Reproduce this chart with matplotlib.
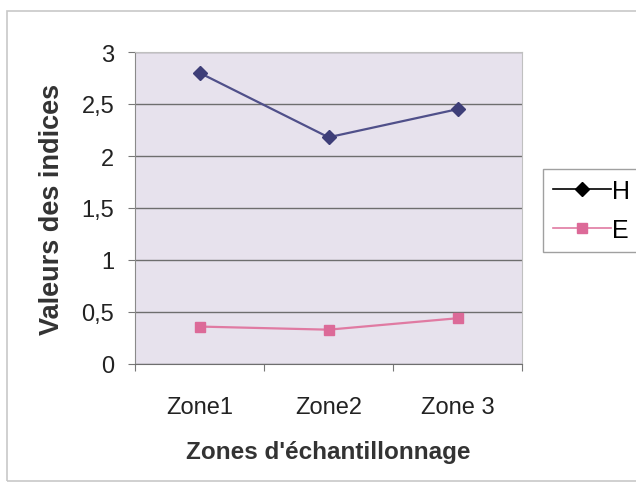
import matplotlib
matplotlib.use("Agg")
import matplotlib.pyplot as plt
from matplotlib.patches import Rectangle

# Data
zones = ["Zone1", "Zone2", "Zone 3"]
h_values = [2.8, 2.18, 2.45]
e_values = [0.36, 0.33, 0.44]
y_ticks = [0, 0.5, 1, 1.5, 2, 2.5, 3]
y_tick_labels = ["0", "0,5", "1", "1,5", "2", "2,5", "3"]

plt.rcParams['font.family'] = ['Liberation Sans', 'DejaVu Sans']

W, H = 636, 489
fig = plt.figure(figsize=(W / 100, H / 100), dpi=100)

# outer chart frame
fig.patches.append(Rectangle((7 / W, 1 - 482 / H), 700 / W, (482 - 12) / H,
                             transform=fig.transFigure, fill=False,
                             edgecolor='#c8c8c8', linewidth=1.2))

# plot area in pixel coordinates
left, right, top, bottom = 135, 522, 53, 365
ax = fig.add_axes([left / W, 1 - bottom / H, (right - left) / W, (bottom - top) / H])
ax.set_facecolor('#e7e2ed')

x = range(len(zones))
ax.plot(x, h_values, color='#50508a', linewidth=1.6, marker='D', markersize=7,
        markerfacecolor='#3e3e78', markeredgecolor='#3e3e78', label='H', zorder=3)
ax.plot(x, e_values, color='#e07aa2', linewidth=1.6, marker='s', markersize=7,
        markerfacecolor='#dc6a98', markeredgecolor='#dc6a98', label='E', zorder=3)

ax.set_xlim(-0.5, 2.5)
ax.set_ylim(0, 3)
ax.set_yticks(y_ticks)
ax.set_yticklabels(y_tick_labels, fontsize=17, color='#222222')
ax.yaxis.grid(True, color='#6e6e6e', linewidth=1.0)
ax.set_axisbelow(True)

# category ticks between zones, labels centred on zones
ax.set_xticks([-0.5, 0.5, 1.5, 2.5])
ax.set_xticklabels([])
ax.set_xticks(list(x), minor=True)
ax.set_xticklabels(zones, minor=True, fontsize=17, color='#222222')
ax.tick_params(axis='x', which='minor', length=0, pad=23)
ax.tick_params(axis='x', which='major', length=5, color='#777777', direction='out')
ax.tick_params(axis='y', length=5, color='#777777', pad=10)

for side in ['top', 'right']:
    ax.spines[side].set_color('#c0c0c0')
ax.spines['left'].set_color('#8a8a8a')
ax.spines['bottom'].set_color('#6e6e6e')

ax.set_ylabel('Valeurs des indices', fontsize=19.5, fontweight='bold', color='#333333', labelpad=12)
ax.set_xlabel("Zones d'échantillonnage", fontsize=17.5, fontweight='bold', color='#333333', labelpad=16)

leg_handles = [
    plt.Line2D([], [], color='black', linewidth=1.2, marker='D', markersize=7,
               markerfacecolor='black', markeredgecolor='black'),
    plt.Line2D([], [], color='#e07aa2', linewidth=1.2, marker='s', markersize=7,
               markerfacecolor='#dc6a98', markeredgecolor='#dc6a98'),
]
leg = fig.legend(leg_handles, ['H', 'E'], loc='upper left',
                 bbox_to_anchor=(543 / W, 1 - 170 / H), fontsize=18,
                 frameon=True, fancybox=False, edgecolor='#888888',
                 handlelength=2.3, handletextpad=0.05, borderpad=0.4,
                 labelspacing=0.6, borderaxespad=0)
leg.get_frame().set_linewidth(1.0)

fig.savefig('out.png', dpi=100, facecolor='white')
